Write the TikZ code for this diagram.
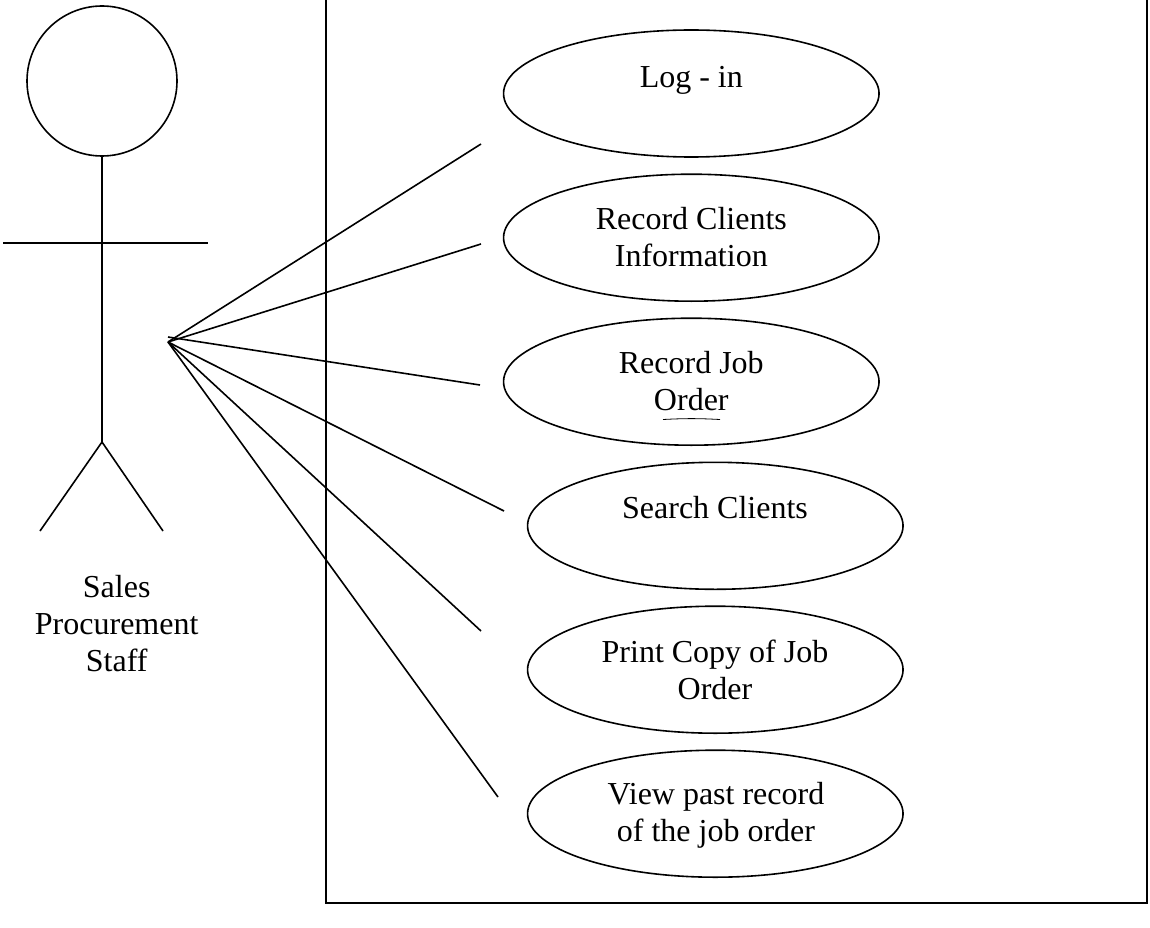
\documentclass[tikz,border=0pt]{standalone}
\usepackage{fontspec}
\setmainfont{Liberation Serif}
\usetikzlibrary{shapes.geometric}
\tikzset{
    usecase/.style={draw=black, ellipse, line width=1.6pt, inner sep=0pt, outer sep=0pt,
        minimum width=375.5pt, minimum height=127pt},
    usecase text/.style={align=center, inner sep=0pt, anchor=base, font=\fontsize{32}{37}\selectfont},
    staff line/.style={draw=black, line width=1.6pt}
}

\begin{document}
\begin{tikzpicture}[x=1pt, y=-1pt]

    \useasboundingbox (0,0) rectangle (1150,928);

    % Sistema
    \coordinate (TL) at (326,-2);
    \coordinate (BL) at (326,903);
    \coordinate (BR) at (1147,903);
    \coordinate (TR) at (1147,-2);
    \draw [staff line] (TL) -- (BL) -- (BR) -- (TR);

    % Actor
    \node [draw=black, circle, line width=1.6pt, inner sep=0pt, outer sep=0pt, minimum size=150pt] (head) at (102,81) {};
    \coordinate (hip) at (102,442);
    \coordinate (armL) at (3,243);
    \coordinate (armR) at (208,243);
    \coordinate (footL) at (40,531);
    \coordinate (footR) at (163,531);
    \draw [staff line] (head.south) -- (hip);
    \draw [staff line] (armL) -- (armR);
    \draw [staff line] (footL) -- (hip) -- (footR);
    \node [usecase text] (actor) at (116.7,671.7) {Sales\\Procurement\\Staff};

    % Casos de uso
    \node [usecase] (login) at (691.3,93.5) {};
    \node [usecase] (clients) at (691.3,237.7) {};
    \node [usecase] (job) at (691.3,381.7) {};
    \node [usecase] (search) at (715.3,525.8) {};
    \node [usecase] (print) at (715.3,669.7) {};
    \node [usecase] (past) at (715.3,813.7) {};

    \node [usecase text] (loginT) at (691.3,88) {Log - in};
    \node [usecase text] (clientsT) at (691.3,266.7) {Record Clients\\Information};
    \node [usecase text] (jobT) at (691.3,410) {Record Job\\Order};
    \node [usecase text] (searchT) at (715,518.3) {Search Clients};
    \node [usecase text] (printT) at (715,699) {Print Copy of Job\\Order};
    \node [usecase text] (pastT) at (716,841.7) {View past record\\of the job order};

    % Trazo bajo el texto
    \coordinate (mA) at (663,419.5);
    \coordinate (mB) at (720,419.5);
    \draw [line width=0.8pt] (mA) to [bend left=3] (mB);

    % Conectores
    \coordinate (hand) at (168,342);
    \coordinate (handB) at (168,337);
    \coordinate (c1) at (481,144);
    \coordinate (c2) at (481,244);
    \coordinate (c3) at (480,385);
    \coordinate (c4) at (504,511);
    \coordinate (c5) at (481,631);
    \coordinate (c6) at (498,797);
    \draw [staff line] (hand) -- (c1);
    \draw [staff line] (hand) -- (c2);
    \draw [staff line] (handB) -- (c3);
    \draw [staff line] (hand) -- (c4);
    \draw [staff line] (hand) -- (c5);
    \draw [staff line] (hand) -- (c6);

\end{tikzpicture}
\end{document}
